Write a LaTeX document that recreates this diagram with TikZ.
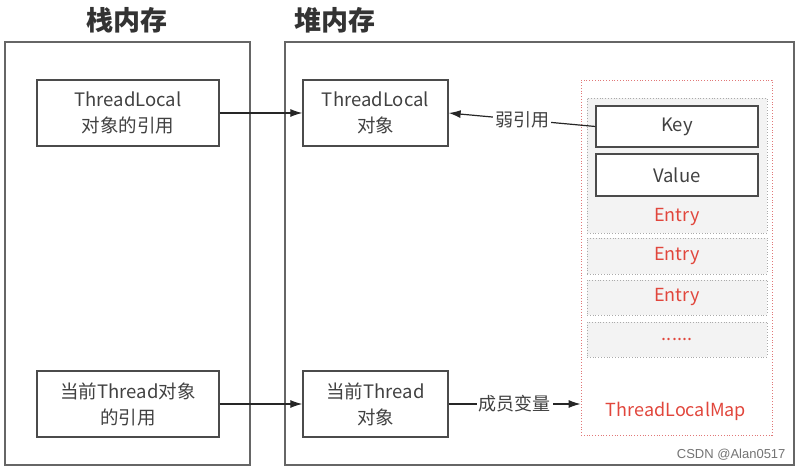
\documentclass[tikz,border=0pt]{standalone}
\usepackage{fontspec}
\setmainfont{Noto Sans CJK SC}
\newfontfamily\markfont{Liberation Sans}
\usetikzlibrary{arrows.meta}
\definecolor{boxgray}{RGB}{75,75,75}
\definecolor{textgray}{RGB}{65,65,65}
\definecolor{mapred}{RGB}{225,70,60}
\definecolor{dotred}{RGB}{225,120,120}
\definecolor{entryfill}{RGB}{243,243,243}
\definecolor{entryline}{RGB}{170,170,170}

\begin{document}
\begin{tikzpicture}[x=1pt, y=-1pt,
		memory/.style={draw=boxgray!85, line width=1.4pt},
		title/.style={font=\fontsize{27}{32}\selectfont\bfseries, text=black!80},
		objbox/.style={draw=boxgray, line width=1.3pt, fill=white, text=textgray, align=center, inner sep=0pt, font=\fontsize{18.5}{26}\selectfont},
		entrybox/.style={draw=entryline, dotted, fill=entryfill, line width=0.8pt, minimum width=180pt, inner sep=0pt},
		redlabel/.style={text=mapred, font=\fontsize{18}{20}\selectfont},
		link/.style={line width=1.2pt, draw=black!85},
		refarrow/.style={-{Latex[length=12pt,width=8pt]}}]
		%%%%% START %%%%%
		
		\useasboundingbox (0, 0) rectangle (804, 470);
		
		\node[title] (stacktitle) at (127, 20) {栈内存};
		\node[title] (heaptitle) at (335, 20) {堆内存};
		
		\draw[memory] (5, 42) rectangle (250, 465);
		\draw[memory] (285, 42) rectangle (794, 465);
		
		\node[objbox, minimum width=182pt, minimum height=66pt] (tlref) at (128, 113) {ThreadLocal\\对象的引用};
		\node[objbox, minimum width=182pt, minimum height=66pt] (thref) at (128, 404) {当前Thread对象\\的引用};
		
		\node[objbox, minimum width=145pt, minimum height=66pt] (tlobj) at (375.5, 113) {ThreadLocal\\对象};
		\node[objbox, minimum width=145pt, minimum height=66pt] (thobj) at (375.5, 404) {当前Thread\\对象};
		
		\node[draw=dotred, dotted, line width=0.8pt, minimum width=191pt, minimum height=355pt, inner sep=0pt] (map) at (676.5, 257.5) {};
		
		\node[entrybox, minimum height=135pt] (entry) at (677, 165.5) {};
		\node[entrybox, minimum height=36pt, redlabel] (entryb) at (677, 256) {Entry};
		\node[entrybox, minimum height=35pt, redlabel] (entryc) at (677, 297.5) {Entry};
		\node[entrybox, minimum height=35pt, redlabel] (entrymore) at (677, 339.5) {......};
		
		\node[objbox, minimum width=162pt, minimum height=41pt] (key) at (677, 126.5) {Key};
		\node[objbox, minimum width=162pt, minimum height=42pt] (value) at (677, 175) {Value};
		\node[redlabel] (entrylabel) at (677, 217) {Entry};
		\node[redlabel] (maplabel) at (676, 411) {ThreadLocalMap};
		
		\draw[link, refarrow] (tlref) -- (tlobj);
		\draw[link, refarrow] (thref) -- (thobj);
		\draw[link, refarrow] (key.west) -- node[fill=white, inner sep=2pt, text=textgray, font=\fontsize{18}{20}\selectfont] (weak) {弱引用} (tlobj.east);
		\draw[link, refarrow] (thobj.east) -- node[fill=white, inner sep=2pt, text=textgray, font=\fontsize{18}{20}\selectfont] (member) {成员变量} (thobj.east -| map.west);
		
		\node[font=\markfont\fontsize{13}{15}\selectfont, text=black!55, anchor=east] (mark) at (789, 455) {CSDN @Alan0517};
		
		%%%%% END %%%%%
	\end{tikzpicture}
\end{document}
